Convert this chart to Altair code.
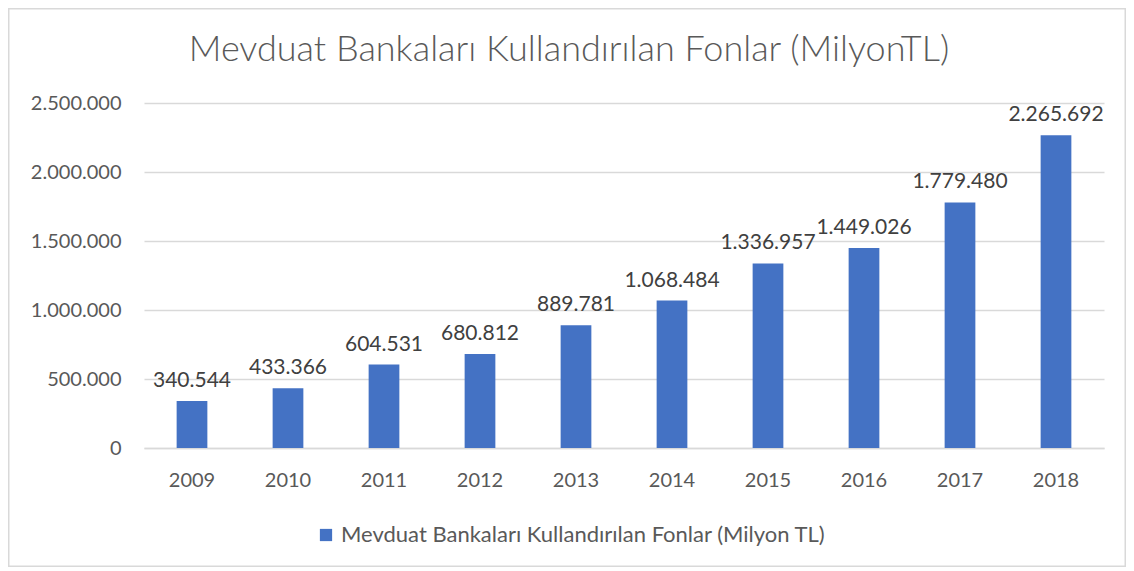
import altair as alt
import pandas as pd

years = ["2009", "2010", "2011", "2012", "2013", "2014", "2015", "2016", "2017", "2018"]
values = [340544, 433366, 604531, 680812, 889781, 1068484, 1336957, 1449026, 1779480, 2265692]
series_name = "Mevduat Bankaları Kullandırılan Fonlar (Milyon TL)"
title_text = "Mevduat Bankaları Kullandırılan Fonlar (MilyonTL)"


def tr_fmt(v):
    return f"{v:,}".replace(",", ".")


df = pd.DataFrame({
    "year": years,
    "value": values,
    "label": [tr_fmt(v) for v in values],
    "series": [series_name] * len(years),
})

FONT = "Lato"
TXT = "#595959"

x = alt.X("year:N", title=None,
          scale=alt.Scale(paddingInner=0.68, paddingOuter=0.34),
          axis=alt.Axis(labelAngle=0, labelFontSize=20, labelColor=TXT, labelFont=FONT,
                        labelPadding=22, ticks=False, domainColor="#D9D9D9", domainWidth=1.5,
                        grid=False))
y = alt.Y("value:Q", title=None,
          scale=alt.Scale(domain=[0, 2500000], nice=False),
          axis=alt.Axis(values=[0, 500000, 1000000, 1500000, 2000000, 2500000],
                        labelExpr="replace(replace(format(datum.value, ','), ',', '.'), ',', '.')",
                        labelFontSize=20, labelColor=TXT, labelFont=FONT, labelPadding=23,
                        ticks=False, domain=False, gridColor="#D9D9D9", gridWidth=1.5))

border = alt.Chart(pd.DataFrame({"a": [0]})).mark_rect(
    fill=None, stroke="#D9D9D9", strokeWidth=1.5, clip=False
).encode(
    x=alt.value(-135.25), x2=alt.value(981.25),
    y=alt.value(-94.25), y2=alt.value(463.25),
)

title = alt.Chart(pd.DataFrame({"t": [title_text]})).mark_text(
    fontSize=36, font=FONT, fontWeight=300, color=TXT, align="center", baseline="middle"
).encode(x=alt.value(425), y=alt.value(-53), text="t:N")

bars = alt.Chart(df).mark_bar(color="#4472C4").encode(
    x=x, y=y,
    color=alt.Color("series:N", title=None,
                    scale=alt.Scale(range=["#4472C4"]),
                    legend=alt.Legend(orient="none", legendX=171, legendY=421,
                                      symbolType="square", symbolSize=150,
                                      symbolStrokeWidth=0, labelFontSize=22,
                                      labelColor=TXT, labelFont=FONT, labelLimit=900))
)

labels = alt.Chart(df).mark_text(dy=-20, fontSize=21, font=FONT, color="#404040").encode(
    x=x, y=y, text="label:N"
)

chart = alt.layer(border, title, bars, labels).properties(
    width=960, height=345,
    autosize=alt.AutoSizeParams(type="none"),
    padding={"left": 136, "top": 95, "right": 22, "bottom": 120},
).configure_view(stroke=None)

chart.save("out.html", embed_options={"renderer": "svg", "actions": False})
